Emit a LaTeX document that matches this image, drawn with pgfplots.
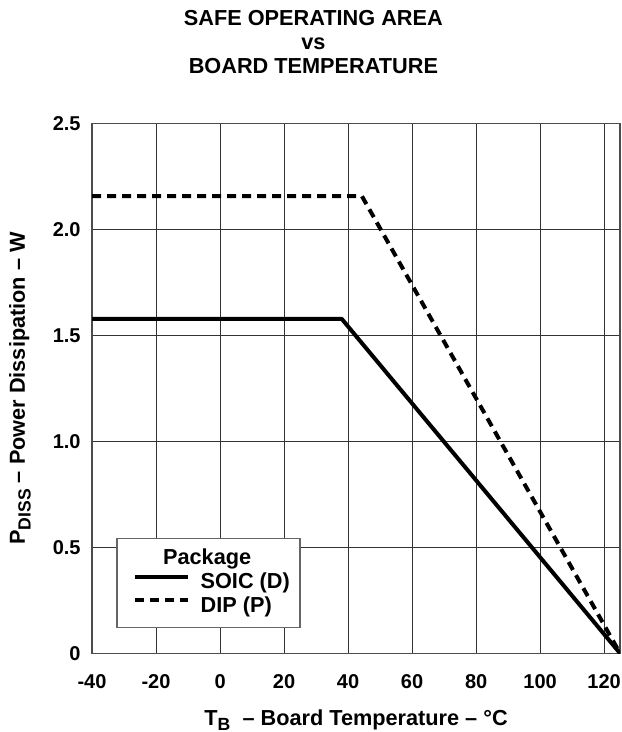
\documentclass[border=0pt]{standalone}
\usepackage{fontspec}
\setmainfont{Liberation Sans}
\usepackage{pgfplots}
\usepackage{pgfplotstable}
\pgfplotsset{compat=1.18}

% SOIC (D) and DIP (P) derating curves
\pgfplotstableread{
x y
-40 1.578
38 1.578
125 0
}\soic
\pgfplotstableread{
x y
-40 2.157
44.3 2.157
125 0
}\dip

\newcommand{\lblfont}{\fontsize{10.85}{12}\selectfont\bfseries}
\newcommand{\tckfont}{\fontsize{10}{11}\selectfont\bfseries}

\begin{document}
\begin{tikzpicture}
\begin{axis}[
  scale only axis,
  width=264pt, height=265pt,
  xmin=-40, xmax=125, ymin=0, ymax=2.5,
  xtick={-40,-20,0,20,40,60,80,100,120},
  xticklabels={-40,-20,0,20,40,60,80,100,120},
  ytick={0,0.5,1,1.5,2,2.5},
  yticklabels={0,0.5,1.0,1.5,2.0,2.5},
  /pgf/number format/assume math mode=true,
  major tick length=0pt,
  grid=major,
  major grid style={black!80, line width=0.5pt},
  axis line style={black!70, line width=0.75pt},
  tick label style={font=\tckfont},
  xticklabel style={anchor=base, yshift=-17.6pt},
  yticklabel style={anchor=east, inner sep=0pt, xshift=-5.5pt},
  xlabel={T\raisebox{-0.45ex}{\fontsize{8.8}{9}\selectfont B}\ \ – Board Temperature – °C},
  ylabel={P\raisebox{-0.5ex}{\fontsize{8.8}{9}\selectfont DISS} – Power Dissipation – W},
  label style={font=\lblfont},
  xlabel style={at={(axis description cs:0.5,0)}, anchor=base, yshift=-35.8pt},
  ylabel style={at={(axis description cs:-0.127,0.5)}, anchor=base, rotate=0},
  legend cell align=left,
  legend style={
    at={(axis description cs:0.0455,0.0475)}, anchor=south west,
    draw=black!60, line width=0.75pt,
    font=\lblfont,
    inner xsep=5pt, inner ysep=5pt,
    column sep=5.4pt, row sep=1.3pt,
    nodes={inner sep=0pt, text height=8pt, text depth=2.6pt},
  },
  legend image code/.code={
    \path[draw=none, fill=none] (0pt,-1pt) rectangle (4pt,1pt);
    \draw[#1] (4pt,3.3pt) -- (30.5pt,3.3pt);
  },
]
\addlegendimage{empty legend}
\addlegendentry{\rule[-5pt]{0pt}{5pt}\hspace*{3.25pt}\makebox[0pt][c]{Package}}
\addplot[black, line width=2pt, line join=bevel] table[x=x, y=y] {\soic};
\addlegendentry{SOIC (D)}
\addplot[black, line width=2pt, dash pattern=on 4.5pt off 3pt] table[x=x, y=y] {\dip};
\addlegendentry{DIP (P)}
\end{axis}
\node[font=\lblfont, anchor=base] at (110.65pt,313.75pt) {SAFE OPERATING AREA};
\node[font=\lblfont, anchor=base] at (110.65pt,301.75pt) {vs};
\node[font=\lblfont, anchor=base] at (110.65pt,289.75pt) {BOARD TEMPERATURE};
\pgfresetboundingbox
\path[use as bounding box] (-46pt,-39.25pt) rectangle (264.5pt,326.65pt);
\end{tikzpicture}
\end{document}
